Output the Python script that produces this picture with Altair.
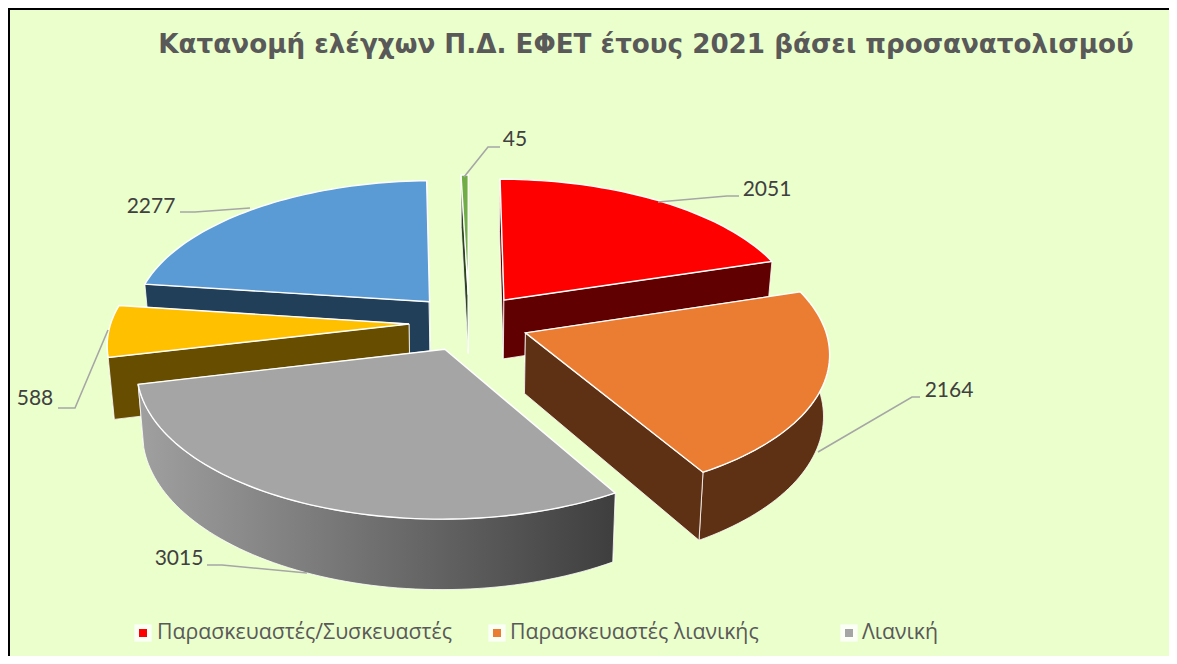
import math
import altair as alt
import pandas as pd

# ---- values
names = ["Παρασκευαστές/Συσκευαστές", "Παρασκευαστές λιανικής", "Λιανική", "Other A", "Other B", "Other C"]
values = [2051, 2164, 3015, 588, 2277, 45]
top_colours = ["#FF0000", "#EB7D32", "#A5A5A5", "#FFC000", "#5B9BD5", "#70AD47"]
wall_colours = ["#600000", "#5E3014", "#404040", "#664D00", "#223F59", "#2D451C"]
paint_order = [5, 0, 4, 3, 1, 2]

title_text = "Κατανομή ελέγχων Π.Δ. ΕΦΕΤ έτους 2021 βάσει προσανατολισμού"
label_text = ["2051", "2164", "3015", "588", "2277", "45"]
label_x = [767, 949, 179, 35, 151, 515]
label_y = [190, 391, 559, 399, 207, 140]
leaders = [
    [(658, 202), (727, 196), (739, 196)],
    [(818, 452), (912, 397), (920, 397)],
    [(307, 573), (222, 565), (207, 565)],
    [(108, 330), (75, 408), (58, 408)],
    [(250, 208), (195, 212), (180, 212)],
    [(464, 177), (488, 147), (500, 147)],
]
legend_names = names[:3]
legend_marker_x = [143, 497, 849]
legend_text_x = [157, 510, 862]
legend_y = 633

BG = "#EBFFCC"
W, H = 1161, 648

# ---- 3D projection of a pie with perspective
CX, CY, A, P = 469, 322.5, 0.474, 0.000421
DEPTH, SHRINK = 60, 0.017
RADIUS, EXPLODE = 298, 60


def project(X, Y, z):
    s = 1 / (1 + P * Y)
    return (CX + X * s * (1 - SHRINK * z), CY - A * Y * s + DEPTH * s * z)


total = sum(values)
spans = []
acc = 0
for v in values:
    spans.append((acc / total * 2 * math.pi, (acc + v) / total * 2 * math.pi))
    acc += v


def ground(i, ang, r):
    mid = sum(spans[i]) / 2
    return (EXPLODE * math.sin(mid) + r * math.sin(ang), EXPLODE * math.cos(mid) + r * math.cos(ang))


def rim(i):
    a, b = spans[i]
    n = max(2, int((b - a) / math.radians(1.5)))
    return [a + (b - a) * k / n for k in range(n + 1)]


scale_x = alt.Scale(domain=[8, 8 + W], nice=False, zero=False)
scale_y = alt.Scale(domain=[8 + H, 8], nice=False, zero=False)
base_x = alt.X("x:Q", scale=scale_x, axis=None)
base_y = alt.Y("y:Q", scale=scale_y, axis=None)


def poly(points, fill, stroke="#FFFFFF", sw=1.2):
    df = pd.DataFrame({"x": [round(p[0], 2) for p in points],
                       "y": [round(p[1], 2) for p in points],
                       "o": list(range(len(points)))})
    return alt.Chart(df).mark_line(interpolate="linear-closed", fill=fill, stroke=stroke,
                                   strokeWidth=sw).encode(x=base_x, y=base_y, order=alt.Order("o:Q"))


def radial(i, ang):
    apex = ground(i, 0, 0)
    e = ground(i, ang, RADIUS)
    return poly([project(*apex, 0), project(*e, 0), project(*e, 1), project(*apex, 1)], wall_colours[i], sw=0.8)


layers = []
for i in paint_order:
    wall = wall_colours[i]
    angs = rim(i)
    apex = ground(i, 0, 0)
    start, end = spans[i]
    # a cut face is seen only if its outward normal points towards the viewer
    faces = [(start, math.cos(start - math.pi / 2)), (end, math.cos(end + math.pi / 2))]
    for ang, n in faces:
        if n >= 0.05:
            layers.append(radial(i, ang))
    # outer wall: only the part that faces the viewer
    front = [t for t in angs if math.cos(t) < 0.06]
    if len(front) > 1:
        outer_top = [project(*ground(i, t, RADIUS), 0) for t in front]
        outer_bot = [project(*ground(i, t, RADIUS), 1) for t in front]
        fill = wall
        if i == 2:
            fill = alt.LinearGradient(gradient="linear", x1=0, x2=1, y1=0, y2=0,
                                      stops=[alt.GradientStop(color="#A0A0A0", offset=0),
                                             alt.GradientStop(color="#3E3E3E", offset=1)])
        layers.append(poly(outer_top + outer_bot[::-1], fill, sw=0.8))
    for ang, n in faces:
        if n < 0.05:
            layers.append(radial(i, ang))
    # top face
    layers.append(poly([project(*apex, 0)] + [project(*ground(i, t, RADIUS), 0) for t in angs],
                       top_colours[i], sw=1.4))

for pts in leaders:
    df = pd.DataFrame({"x": [p[0] for p in pts], "y": [p[1] for p in pts], "o": range(len(pts))})
    layers.append(alt.Chart(df).mark_line(color="#A6A6A6", strokeWidth=1.6).encode(
        x=base_x, y=base_y, order=alt.Order("o:Q")))

labels = pd.DataFrame({"x": label_x, "y": label_y, "t": label_text})
layers.append(alt.Chart(labels).mark_text(font="Lato", fontSize=21, color="#404040", align="center",
                                          baseline="middle").encode(x=base_x, y=base_y, text="t:N"))

title_df = pd.DataFrame({"x": [646], "y": [45], "t": [title_text]})
layers.append(alt.Chart(title_df).mark_text(font="DejaVu Sans", fontWeight="bold", fontSize=26.2, color="#595959",
                                            align="center", baseline="middle").encode(
    x=base_x, y=base_y, text="t:N"))

leg = pd.DataFrame({"x": legend_marker_x, "y": [legend_y] * 3, "tx": legend_text_x, "t": legend_names,
                    "c": top_colours[:3]})
layers.append(alt.Chart(leg).mark_square(size=300, color="#FFFFFF", opacity=0.8).encode(x=base_x, y=base_y))
layers.append(alt.Chart(leg).mark_square(size=64, opacity=1).encode(
    x=base_x, y=base_y, color=alt.Color("c:N", scale=None)))
layers.append(alt.Chart(leg).mark_text(font="Open Sans", fontSize=21.3, color="#595959", align="left",
                                       baseline="middle").encode(
    x=alt.X("tx:Q", scale=scale_x, axis=None), y=base_y, text="t:N"))

layers.append(alt.Chart(pd.DataFrame({"a": [0]})).mark_rule(color="#000000", strokeWidth=2).encode(
    x=alt.value(1), y=alt.value(0), y2=alt.value(H)))
layers.append(alt.Chart(pd.DataFrame({"a": [0]})).mark_rule(color="#000000", strokeWidth=2).encode(
    y=alt.value(1), x=alt.value(0), x2=alt.value(W)))

chart = alt.layer(*layers).properties(
    width=W, height=H, background=BG, padding=0,
    autosize=alt.AutoSizeParams(type="none")
).configure_view(stroke=None)

chart.save("out.html", embed_options={"renderer": "svg", "actions": False})
